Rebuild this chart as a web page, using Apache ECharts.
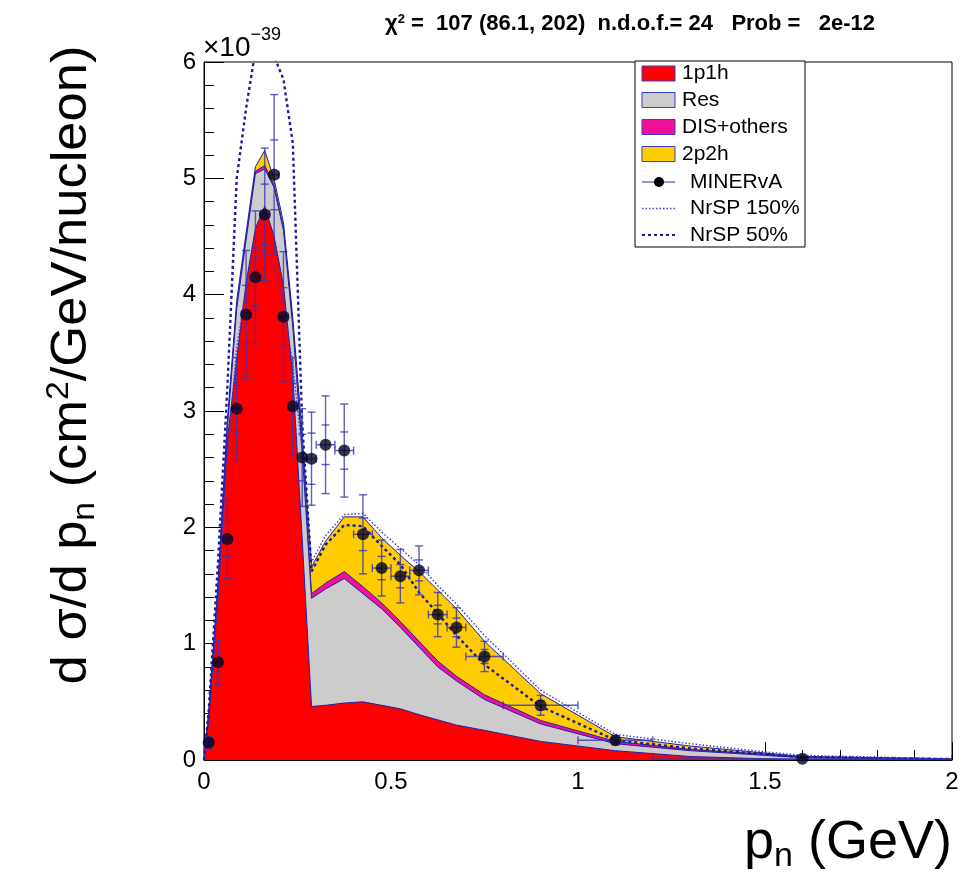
<!DOCTYPE html>
<html><head><meta charset="utf-8">
<script src="https://cdn.jsdelivr.net/npm/echarts@6/dist/echarts.min.js"></script>
<style>html,body{margin:0;padding:0;background:#fff}#c{width:965px;height:879px}</style>
</head><body><div id="c"></div>
<script>
// ---- data (units of 1e-39 cm^2/GeV/nucleon) ----
const dataX   = [0.0125,0.0375,0.0625,0.0875,0.1125,0.1375,0.1625,0.1875,0.2125,0.2375,0.2625,0.2875,0.325,0.375,0.425,0.475,0.525,0.575,0.625,0.675,0.75,0.9,1.1,1.6];
const dataXErr= [0.0125,0.0125,0.0125,0.0125,0.0125,0.0125,0.0125,0.0125,0.0125,0.0125,0.0125,0.0125,0.025,0.025,0.025,0.025,0.025,0.025,0.025,0.025,0.05,0.1,0.1,0.4];
const dataY   = [0.15,0.84,1.90,3.02,3.83,4.15,4.69,5.03,3.81,3.04,2.60,2.59,2.71,2.66,1.94,1.65,1.58,1.63,1.25,1.14,0.89,0.47,0.17,0.01];
const dataErr = [0.05,0.19,0.34,0.44,0.55,0.57,0.57,0.69,0.56,0.42,0.42,0.40,0.42,0.40,0.34,0.24,0.23,0.21,0.19,0.17,0.13,0.085,0.04,0.01];
const statErr = [0.02,0.08,0.15,0.20,0.25,0.25,0.26,0.30,0.25,0.20,0.20,0.22,0.17,0.16,0.14,0.10,0.10,0.09,0.08,0.08,0.06,0.04,0.02,0.005];

const mcX     = [0,0.0125,0.0375,0.0625,0.0875,0.1125,0.1375,0.1625,0.1875,0.2125,0.2375,0.2625,0.2875,0.325,0.375,0.425,0.475,0.525,0.575,0.625,0.675,0.75,0.9,1.1,1.3,1.5,1.6,2.0];
const mc1p1h  = [0,0.35,1.40,2.75,3.45,4.10,4.57,4.76,4.50,4.08,3.30,1.90,0.46,0.47,0.49,0.50,0.47,0.44,0.39,0.345,0.30,0.255,0.16,0.08,0.03,0.01,0.005,0];
const mcRes   = [0,0.03,0.07,0.10,0.43,0.37,0.47,0.32,0.42,0.47,0.42,0.75,0.93,1.00,1.07,0.93,0.83,0.70,0.58,0.455,0.38,0.265,0.15,0.06,0.05,0.03,0.015,0.005];
const mcDIS   = [0,0.01,0.02,0.02,0.02,0.02,0.02,0.03,0.02,0.02,0.02,0.03,0.04,0.05,0.06,0.06,0.05,0.05,0.05,0.05,0.04,0.04,0.03,0.02,0.01,0.01,0.005,0.002];
const mc2p2h  = [0,0.01,0.03,0.05,0.05,0.04,0.04,0.13,0.05,0.05,0.06,0.12,0.23,0.36,0.47,0.60,0.56,0.57,0.60,0.61,0.58,0.46,0.23,0.04,0.03,0.01,0.005,0.003];
const nrsp150 = [0,0.38,1.40,2.60,3.55,4.05,4.30,4.40,4.25,3.92,3.40,2.65,1.70,1.93,2.11,2.12,1.96,1.82,1.68,1.50,1.34,1.07,0.60,0.22,0.14,0.07,0.04,0.01];
const nrsp50  = [0,0.42,1.70,3.20,5.00,5.60,6.10,6.40,6.05,5.85,5.30,2.90,1.62,1.85,2.02,2.01,1.84,1.68,1.44,1.26,1.07,0.82,0.46,0.17,0.10,0.05,0.025,0.008];

const legendNames = ['1p1h','Res','DIS+others','2p2h','MINERvA','NrSP 150%','NrSP 50%'];
const titleText = ' =  107 (86.1, 202)  n.d.o.f.= 24   Prob =   2e-12';

// ---- styling ----
const FONT = "'Liberation Sans', Arial, Helvetica, sans-serif";
const OUTLINE = '#2020a8';
const COLORS = {'1p1h':'#ff0000','Res':'#cccccc','DIS+others':'#f0109a','2p2h':'#ffcc00'};

const pairs = (xs, ys) => xs.map((x,i)=>[x, ys[i]]);
// cumulative stack tops built from the component arrays
const layers = [mc1p1h, mcRes, mcDIS, mc2p2h];
const cum = [];
layers.forEach((arr,k)=>{ cum.push(arr.map((v,i)=> v + (k? cum[k-1][i] : 0))); });

function areaSeries(name, tops, z){
  return {type:'line', name, data:pairs(mcX, tops), showSymbol:false, symbol:'none',
    lineStyle:{color:OUTLINE, width:1}, areaStyle:{color:COLORS[name], opacity:1, origin:'start'},
    itemStyle:{color:COLORS[name]}, z:z};
}

const errData = dataX.map((x,i)=>[x, dataY[i], dataXErr[i], dataErr[i], statErr[i]]);

function renderErr(params, api){
  const x=api.value(0), y=api.value(1), xe=api.value(2), ye=api.value(3), se=api.value(4);
  const c=api.coord([x,y]);
  const t=api.coord([x,y+ye]), b=api.coord([x,Math.max(0,y-ye)]);
  const l=api.coord([x-xe,y]), r=api.coord([x+xe,y]);
  const st=api.coord([x,y+se]), sb=api.coord([x,Math.max(0,y-se)]);
  const style={stroke:'#3434b4', lineWidth:1.4, opacity:0.8};
  const cap=4;
  const ln=(x1,y1,x2,y2)=>({type:'line', shape:{x1,y1,x2,y2}, style});
  return {type:'group', children:[
    ln(c[0],t[1],c[0],b[1]),
    ln(l[0],c[1],r[0],c[1]),
    ln(c[0]-cap,t[1],c[0]+cap,t[1]),
    ln(c[0]-cap,b[1],c[0]+cap,b[1]),
    ln(c[0]-cap,st[1],c[0]+cap,st[1]),
    ln(c[0]-cap,sb[1],c[0]+cap,sb[1]),
    ln(l[0],c[1]-cap,l[0],c[1]+cap),
    ln(r[0],c[1]-cap,r[0],c[1]+cap)
  ]};
}

// legend graphic
const LX=635, LY=61, LW=170, LH=186;
const rowY=[73.5,100,127,154,182,208.5,235];
const LFONT='21px '+FONT;
const legendEls=[{type:'rect', shape:{x:LX,y:LY,width:LW,height:LH}, style:{fill:'#fff',stroke:'#000',lineWidth:1}, z:50}];
legendNames.forEach((n,i)=>{
  const y=rowY[i];
  if(i<4){
    legendEls.push({type:'rect', shape:{x:642,y:y-7.5,width:33,height:15}, style:{fill:COLORS[n],stroke:'#3c3cc8',lineWidth:1}, z:51});
    legendEls.push({type:'text', x:682, y:y, style:{text:n, font:LFONT, fill:'#000', textVerticalAlign:'middle'}, z:51});
  } else {
    if(i===4){
      legendEls.push({type:'line', shape:{x1:642,y1:y,x2:675,y2:y}, style:{stroke:'#2a2ab0',lineWidth:1.2}, z:51});
      legendEls.push({type:'circle', shape:{cx:659,cy:y,r:5}, style:{fill:'#000'}, z:52});
    } else if(i===5){
      legendEls.push({type:'line', shape:{x1:642,y1:y,x2:675,y2:y}, style:{stroke:'#3b3bd0',lineWidth:1.3,lineDash:[1.5,2]}, z:51});
    } else {
      legendEls.push({type:'line', shape:{x1:642,y1:y,x2:675,y2:y}, style:{stroke:'#1a1a9a',lineWidth:2.2,lineDash:[3,3]}, z:51});
    }
    legendEls.push({type:'text', x:690, y:y, style:{text:n, font:LFONT, fill:'#000', textVerticalAlign:'middle'}, z:51});
  }
});

const chart = echarts.init(document.getElementById('c'), null, {renderer:'canvas'});
chart.setOption({
  animation:false,
  backgroundColor:'#ffffff',
  grid:{left:204, top:62, width:748, height:698, show:true, borderColor:'#000', borderWidth:1, backgroundColor:'transparent'},
  xAxis:{type:'value', min:0, max:2, interval:0.5,
    axisLine:{show:true, lineStyle:{color:'#000', width:1}},
    axisTick:{show:true, inside:true, length:18, lineStyle:{color:'#000'}},
    minorTick:{show:true, splitNumber:5, length:10, lineStyle:{color:'#000'}},
    splitLine:{show:false},
    axisLabel:{fontSize:24, color:'#000', fontFamily:FONT, margin:10}},
  yAxis:{type:'value', min:0, max:6, interval:1,
    axisLine:{show:true, lineStyle:{color:'#000', width:1}},
    axisTick:{show:true, inside:true, length:20, lineStyle:{color:'#000'}},
    minorTick:{show:true, splitNumber:5, length:10, lineStyle:{color:'#000'}},
    splitLine:{show:false},
    axisLabel:{fontSize:24, color:'#000', fontFamily:FONT, margin:8}},
  series:[
    areaSeries('2p2h', cum[3], 1),
    areaSeries('DIS+others', cum[2], 2),
    areaSeries('Res', cum[1], 3),
    areaSeries('1p1h', cum[0], 4),
    {type:'line', name:'NrSP 150%', data:pairs(mcX,nrsp150), showSymbol:false, symbol:'none',
      lineStyle:{color:'#3b3bd0', width:1.4, type:[1.5,2]}, z:6},
    {type:'line', name:'NrSP 50%', data:pairs(mcX,nrsp50), showSymbol:false, symbol:'none',
      lineStyle:{color:'#1a1a9a', width:2.4, type:[3,3]}, z:6},
    {type:'custom', name:'MINERvA err', data:errData, renderItem:renderErr, z:7, clip:true},
    {type:'scatter', name:'MINERvA', data:pairs(dataX,dataY), symbol:'circle', symbolSize:12,
      itemStyle:{color:'#05051e'}, z:8}
  ],
  graphic:[
    {type:'text', left:385, top:13, style:{text:'{g|χ}{u|2}{b|'+titleText+'}',
      rich:{g:{font:'bold 22px '+FONT, fill:'#000'}, u:{font:'bold 13px '+FONT, fill:'#000', verticalAlign:'top', padding:[0,0,9,0]}, b:{font:'bold 22px '+FONT, fill:'#000'}}}},
    {type:'text', left:203, top:26, style:{text:'{a|×10}{u|−39}',
      rich:{a:{font:'28px '+FONT, fill:'#000', padding:[8,0,0,0]}, u:{font:'18px '+FONT, fill:'#000', verticalAlign:'top'}}}},
    {type:'text', x:72, y:365, rotation:Math.PI/2, scaleX:1.05, style:{text:'{a|d σ/d p}{s|n}{a| (cm}{u|2}{a|/GeV/nucleon)}',
      textAlign:'center', textVerticalAlign:'middle',
      rich:{a:{font:'50px '+FONT, fill:'#000', lineHeight:56}, s:{font:'32px '+FONT, fill:'#000', verticalAlign:'bottom', padding:[26,0,0,0]}, u:{font:'32px '+FONT, fill:'#000', verticalAlign:'top', padding:[0,0,22,0]}}}},
    {type:'text', x:952, y:843, style:{text:'{a|p}{s|n}{a| (GeV)}', textAlign:'right', textVerticalAlign:'middle',
      rich:{a:{font:'54px '+FONT, fill:'#000', lineHeight:60}, s:{font:'34px '+FONT, fill:'#000', verticalAlign:'bottom', padding:[28,0,0,0]}}}},
    ...legendEls
  ]
});
</script></body></html>
